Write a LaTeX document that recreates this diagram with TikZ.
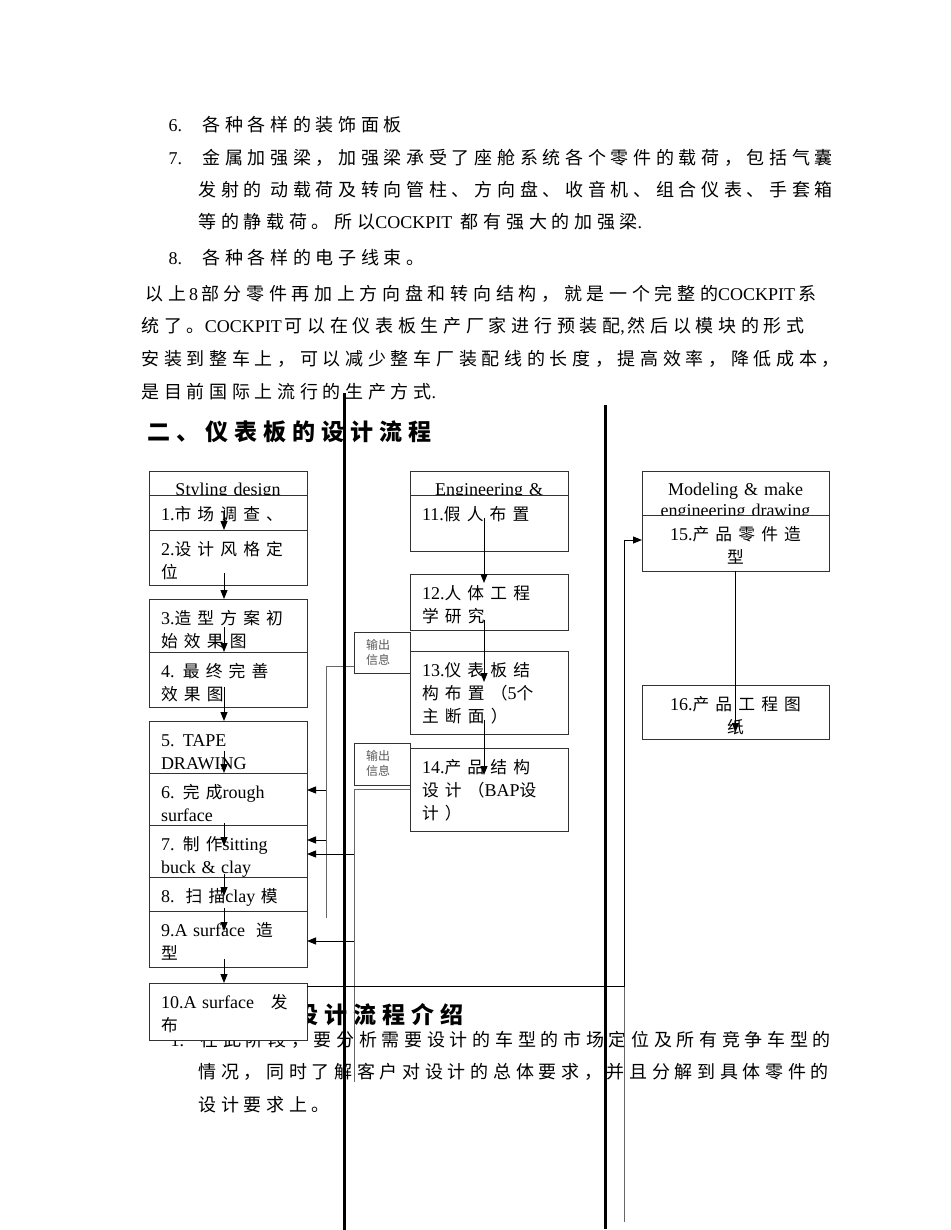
\documentclass[tikz,border=0pt]{standalone}
\usepackage{fontspec}
\setmainfont{Liberation Serif}
\newfontfamily\cjk[LetterSpace=26]{Noto Sans CJK SC}
\newfontfamily\cjkb[LetterSpace=37,Scale=0.93]{Noto Sans CJK SC}
\newfontfamily\cjks{Noto Sans CJK SC}
\newcommand\en[1]{{\rmfamily#1}}
\newcommand\bodyfont{\fontsize{18}{23}\selectfont\cjk}
\newcommand\titlefont{\fontsize{23}{28}\selectfont\cjk\bfseries}
\newcommand\boxfont{\fontsize{18}{23}\selectfont\cjkb}
\newcommand\headfont{\fontsize{18}{21}\selectfont\rmfamily}
\newcommand\outfont{\fontsize{12}{15}\selectfont\cjks}
\usepackage{tikz}
\usetikzlibrary{arrows.meta,
positioning,
calc}

\begin{document}
\begin{tikzpicture}[
    x=1pt, y=-1pt,
    >={Triangle[length=9pt,width=7pt]},
    every path/.style={line width=1pt},
    txt/.style={anchor=west, inner sep=0pt, font=\bodyfont},
    title/.style={anchor=west, inner sep=0pt, font=\titlefont},
    box/.style={
        draw=black!80,
        fill=white,
        outer sep=0pt,
        inner xsep=12pt,
        inner ysep=0pt,
        text width=134pt,
        align=left,
        text height=25pt,
        font=\boxfont
    },
    head/.style={box, align=center, text height=24pt, font=\headfont},
    outbox/.style={box, text width=32pt, text height=17.5pt, font=\outfont, text=black!65},
    conn/.style={draw=black!60},
    rule/.style={line width=3pt}
]

\path[fill=white] (0,0) rectangle (950,1230);
\useasboundingbox (0,0) rectangle (950,1230);

\node[txt] (t1) at (168,125) {\makebox[34pt][l]{\en{6.}}各种各样的装饰面板};
\node[txt] (t2) at (168,158) {\makebox[34pt][l]{\en{7.}}金属加强梁，加强梁承受了座舱系统各个零件的载荷，包括气囊};
\node[txt] (t3) at (198,190) {发射的 动载荷及转向管柱、方向盘、收音机、组合仪表、手套箱};
\node[txt] (t4) at (198,222) {等的静载荷。所以\en{COCKPIT} 都有强大的加强梁\en{.}};
\node[txt] (t5) at (168,258) {\makebox[34pt][l]{\en{8.}}各种各样的电子线束。};
\node[txt] (t6) at (145,294) {以上\en{\,8\,}部分零件再加上方向盘和转向结构，就是一个完整的\en{COCKPIT\,}系};
\node[txt] (t7) at (141,326) {统了。\en{COCKPIT\,}可以在仪表板生产厂家进行预装配\en{,\,}然后以模块的形式};
\node[txt] (t8) at (141,359) {安装到整车上，可以减少整车厂装配线的长度，提高效率，降低成本，};
\node[txt] (t9) at (141,392) {是目前国际上流行的生产方式\en{.}};
\node[title] (h2) at (147,432) {二、仪表板的设计流程};

\node[title] (h3) at (295,1015) {设计流程介绍};
\node[txt] (u1) at (170,1040) {\makebox[30pt][l]{\en{1.}}在此阶段，要分析需要设计的车型的市场定位及所有竞争车型的};
\node[txt] (u2) at (198,1072) {情况，同时了解客户对设计的总体要求，并且分解到具体零件的};
\node[txt] (u3) at (198,1105) {设计要求上。};

% Styling design
\node[head, anchor=north west, text depth=0pt] (hs) at (149,471) {Styling design};
\node[box, below=0pt of hs, text depth=10pt] (s1) {\en{1.}市场调查、};
\node[box, below=0pt of s1, text depth=30pt] (s2) {\en{2.}设计风格定\\位};
\node[box, below=14pt of s2, text depth=28pt] (s3) {\en{3.}造型方案初\\始效果图};
\node[box, below=0pt of s3, text depth=30pt] (s4) {\en{4. }最终完善\\效果图};
\node[box, below=14pt of s4, text depth=27pt] (s5) {\en{5. TAPE}\\\en{DRAWING}};
\node[box, below=0pt of s5, text depth=27pt] (s6) {\en{6. }完成\en{rough}\\\en{surface}};
\node[box, below=0pt of s6, text depth=27pt] (s7) {\en{7. }制作\en{sitting}\\\en{buck \& clay}};
\node[box, below=0pt of s7, text depth=9pt] (s8) {\en{8.\ \ }扫描\en{clay }模};
\node[box, below=0pt of s8, text depth=31pt] (s9) {\en{9.A surface\ \ }造\\型};
\node[box, below=16pt of s9, text depth=32pt] (s10) {\en{10.A surface\ \ \ }发\\布};

% Engineering
\node[head, anchor=north west, text depth=0pt] (he) at (410,471) {Engineering \&};
\node[box, below=0pt of he, text depth=31pt] (e11) {\en{11.}假人布置};
\node[box, below=23pt of e11, text depth=31pt] (e12) {\en{12.}人体工程\\学研究};
\node[box, below=21pt of e12, text depth=58pt] (e13) {\en{13.}仪表板结\\构布置（\en{5}个\\主断面）};
\node[box, below=14pt of e13, text depth=58pt] (e14) {\en{14.}产品结构\\设计（\en{BAP}设\\计）};

\node[outbox, anchor=north west, text depth=23.5pt] (o1) at (354,632) {输出\\信息};
\node[outbox, anchor=north west, text depth=24.5pt] (o2) at (354,743) {输出\\信息};

% Modeling
\node[head, anchor=north west, text width=163pt, text depth=20pt] (hm) at (642,471) {Modeling \& make\\engineering drawing};
\node[box, below=0pt of hm, text width=163pt, align=center, text depth=31pt] (m15) {\en{15.}产品零件造\\型};
\node[box, below=114pt of m15, text width=163pt, align=center, text depth=29pt] (m16) {\en{16.}产品工程图\\纸};

\draw[->] ([xshift=-4pt,yshift=20pt]s1.south) -- ([xshift=-4pt]s2.north);
\draw[->] ([xshift=-4pt,yshift=12pt]s2.south) -- ([xshift=-4pt]s3.north);
\draw[->] ([xshift=-4pt,yshift=25pt]s3.south) -- ([xshift=-4pt]s4.north);
\draw[->] ([xshift=-4pt,yshift=20pt]s4.south) -- ([xshift=-4pt]s5.north);
\draw[->] ([xshift=-4pt,yshift=22pt]s5.south) -- ([xshift=-4pt]s6.north);
\draw[->] ([xshift=-4pt,yshift=2pt]s6.south) -- ([xshift=-4pt,yshift=-21pt]s7.north);
\draw[->] ([xshift=-4pt,yshift=3pt]s7.south) -- ([xshift=-4pt,yshift=-19pt]s8.north);
\draw[->] ([xshift=-4pt,yshift=3pt]s8.south) -- ([xshift=-4pt,yshift=-20pt]s9.north);
\draw[->] ([xshift=-4pt,yshift=8pt]s9.south) -- ([xshift=-4pt]s10.north);

\draw[->] ([xshift=-5pt,yshift=33pt]e11.south) -- ([xshift=-5pt,yshift=-9pt]e12.north);
\draw[->] ([xshift=-5pt,yshift=10pt]e12.south) -- ([xshift=-5pt,yshift=-31pt]e13.north);
\draw[->] ([xshift=-5pt,yshift=14pt]e13.south) -- ([xshift=-5pt,yshift=-27pt]e14.north);

\draw[->] (m15.south) -- ([yshift=-47pt]m16.north);

\coordinate (fa) at (326,918);
\coordinate (fb) at (354,1082);
\coordinate (fc) at (624,540);
\coordinate (fd) at (624,1222);

\draw[conn] ([yshift=-14pt]o1.west) -| (fa);
\draw[->] ([yshift=9pt]s6.east -| fa) -- ([yshift=9pt]s6.east);
\draw[->] ([yshift=11pt]s7.east -| fa) -- ([yshift=11pt]s7.east);

\draw[conn] (e14.west) -| (fb);
\draw[->] ([yshift=-3pt]s7.east -| fb) -- ([yshift=-3pt]s7.east);
\draw[->] ([yshift=-2pt]s9.east -| fb) -- ([yshift=-2pt]s9.east);

\draw[conn] (fc) -- (fd);
\draw[->] ([yshift=-3pt]s10.north east) -| (fc) -- ([yshift=3pt]m15.west);

\draw[rule] (344,393) -- (344,1230);
\draw[rule] (605,405) -- (605,1229);

\end{tikzpicture}
\end{document}
